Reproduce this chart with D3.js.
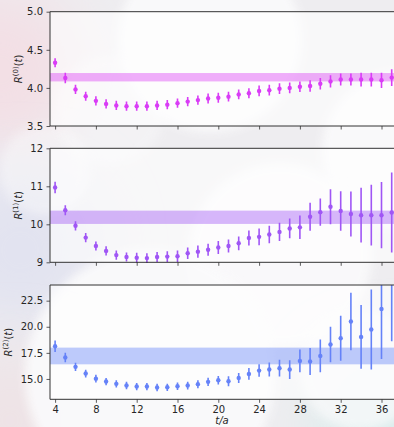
<!DOCTYPE html>
<html>
<head>
<meta charset="utf-8">
<script src="https://cdn.jsdelivr.net/npm/d3@7"></script>
<style>
  html, body { margin: 0; padding: 0; overflow: hidden; }
  svg { display: block; font-family: "DejaVu Sans", sans-serif; }
</style>
</head>
<body>
<svg id="chart" width="394" height="427"></svg>
<script>
// time slices
const tValues = [4, 5, 6, 7, 8, 9, 10, 11, 12, 13, 14, 15, 16, 17, 18, 19, 20,
  21, 22, 23, 24, 25, 26, 27, 28, 29, 30, 31, 32, 33, 34, 35, 36, 37];
const xTicks = [4, 8, 12, 16, 20, 24, 28, 32, 36];

// R^(0)(t)
const r0 = [4.33, 4.13, 3.98, 3.89, 3.83, 3.79, 3.77, 3.76, 3.76, 3.76, 3.77, 3.78, 3.80, 3.82, 3.84,
  3.86, 3.87, 3.885, 3.915, 3.93, 3.96, 3.97, 3.99, 4.00, 4.015, 4.025, 4.055, 4.085, 4.11, 4.11, 4.11, 4.11, 4.10, 4.135];
const e0 = [0.06, 0.07, 0.06, 0.06, 0.06, 0.06, 0.06, 0.06, 0.06, 0.06, 0.06, 0.06, 0.06, 0.06, 0.06,
  0.065, 0.065, 0.065, 0.065, 0.065, 0.07, 0.07, 0.07, 0.07, 0.07, 0.075, 0.075, 0.08, 0.08, 0.08, 0.09, 0.09, 0.1, 0.11];
const band0 = [4.085, 4.195];
const yTicks0 = [3.5, 4.0, 4.5, 5.0];

// R^(1)(t)
const r1 = [10.97, 10.37, 9.96, 9.65, 9.43, 9.30, 9.19, 9.14, 9.12, 9.11, 9.14, 9.15, 9.16, 9.24, 9.28,
  9.33, 9.39, 9.43, 9.50, 9.64, 9.67, 9.73, 9.80, 9.89, 9.92, 10.2, 10.32, 10.46, 10.35, 10.27, 10.24, 10.24, 10.24, 10.31];
const e1 = [0.15, 0.13, 0.12, 0.12, 0.12, 0.12, 0.12, 0.12, 0.13, 0.13, 0.13, 0.14, 0.15, 0.15, 0.16,
  0.16, 0.17, 0.17, 0.18, 0.2, 0.22, 0.23, 0.24, 0.26, 0.31, 0.37, 0.36, 0.46, 0.52, 0.59, 0.72, 0.80, 0.87, 1.05];
const band1 = [10.01, 10.36];
const yTicks1 = [9, 10, 11, 12];

// R^(2)(t)
const r2 = [18.13, 17.05, 16.16, 15.52, 15.03, 14.75, 14.53, 14.37, 14.27, 14.27, 14.18, 14.2, 14.3, 14.37, 14.5,
  14.72, 14.87, 14.78, 15.1, 15.48, 15.8, 15.9, 16.03, 15.9, 16.73, 16.67, 17.21, 18.3, 18.9, 20.5, 19.03, 19.73, 21.7, 24.8];
const e2 = [0.56, 0.45, 0.4, 0.37, 0.37, 0.35, 0.35, 0.35, 0.35, 0.35, 0.35, 0.35, 0.36, 0.37, 0.38,
  0.4, 0.41, 0.48, 0.48, 0.56, 0.6, 0.67, 0.8, 0.9, 1.1, 1.3, 1.56, 1.7, 2.15, 2.75, 3.05, 3.83, 4.8, 6.2];
const band2 = [16.4, 18.0];
const yTicks2 = [15.0, 17.5, 20.0, 22.5];

const svg = d3.select('#chart')
const W = 394, H = 427

// ---- blurry bokeh background ----
const defs = svg.append('defs')
defs.append('filter').attr('id', 'blur').attr('x', '-50%').attr('y', '-50%').attr('width', '200%').attr('height', '200%')
  .append('feGaussianBlur').attr('stdDeviation', 5)
defs.append('filter').attr('id', 'blurBig').attr('x', '-50%').attr('y', '-50%').attr('width', '200%').attr('height', '200%')
  .append('feGaussianBlur').attr('stdDeviation', 30)

const bg = svg.append('g')
bg.append('rect').attr('width', W).attr('height', H).attr('fill', '#eeedf0')
const tints = [
  { x: 0, y: 70, r: 80, c: '#f3dfe5' },
  { x: 20, y: 250, r: 80, c: '#e2e3f0' },
  { x: 10, y: 420, r: 70, c: '#eee3e6' },
  { x: 394, y: 427, r: 80, c: '#dcecec' }
]
bg.selectAll('circle.tint').data(tints).join('circle').attr('class', 'tint')
  .attr('cx', d => d.x).attr('cy', d => d.y).attr('r', d => d.r)
  .attr('fill', d => d.c).attr('filter', 'url(#blurBig)')
const bokeh = [
  { x: 210, y: 40, r: 92, o: 0.9 },
  { x: 400, y: 150, r: 78, o: 0.9 },
  { x: 280, y: 255, r: 92, o: 0.85 },
  { x: 150, y: 375, r: 125, o: 0.9 },
  { x: 360, y: 370, r: 60, o: 0.7 },
  { x: 45, y: 170, r: 45, o: 0.45 },
  { x: 110, y: 110, r: 55, o: 0.4 }
]
bg.selectAll('circle.bokeh').data(bokeh).join('circle').attr('class', 'bokeh')
  .attr('cx', d => d.x).attr('cy', d => d.y).attr('r', d => d.r)
  .attr('fill', '#fbfbfc').attr('opacity', d => d.o).attr('filter', 'url(#blur)')

// ---- panels ----
const x = d3.scaleLinear().domain([3.5, 37.5]).range([50, 396.8])

const panels = [
  { id: 'p0', vals: r0, errs: e0, band: band0, ticks: yTicks0, domain: [3.5, 5.0], top: 11.7, bottom: 126,
    color: '#d93cf6', bandColor: '#dc3ef5', fmt: d3.format('.1f'), sup: '(0)', labelX: 22 },
  { id: 'p1', vals: r1, errs: e1, band: band1, ticks: yTicks1, domain: [9, 12], top: 148.3, bottom: 262.3,
    color: '#a056f5', bandColor: '#a056f5', fmt: d3.format('d'), sup: '(1)', labelX: 22 },
  { id: 'p2', vals: r2, errs: e2, band: band2, ticks: yTicks2, domain: [13.05, 24.0], top: 285, bottom: 399.3,
    color: '#6582f8', bandColor: '#6582f8', fmt: d3.format('.1f'), sup: '(2)', labelX: 12 }
]

panels.forEach((p, i) => {
  const y = d3.scaleLinear().domain(p.domain).range([p.bottom, p.top])
  const g = svg.append('g')

  // semi transparent axes face
  g.append('rect').attr('x', x.range()[0]).attr('y', p.top)
    .attr('width', x.range()[1] - x.range()[0]).attr('height', p.bottom - p.top)
    .attr('fill', '#ffffff').attr('opacity', 0.6)

  defs.append('clipPath').attr('id', 'clip-' + p.id)
    .append('rect').attr('x', x.range()[0]).attr('y', p.top)
    .attr('width', x.range()[1] - x.range()[0]).attr('height', p.bottom - p.top + 5)

  const plot = g.append('g').attr('clip-path', `url(#clip-${p.id})`)

  // fit band
  plot.append('rect')
    .attr('x', x.range()[0]).attr('width', x.range()[1] - x.range()[0])
    .attr('y', y(p.band[1])).attr('height', y(p.band[0]) - y(p.band[1]))
    .attr('fill', p.bandColor).attr('opacity', 0.42)

  const pts = tValues.map((t, j) => ({ t: t, v: p.vals[j], e: p.errs[j] }))

  plot.append('g').selectAll('line').data(pts).join('line')
    .attr('x1', d => x(d.t)).attr('x2', d => x(d.t))
    .attr('y1', d => y(d.v - d.e)).attr('y2', d => y(d.v + d.e))
    .attr('stroke', p.color).attr('stroke-width', 1.6)

  plot.append('g').selectAll('circle').data(pts).join('circle')
    .attr('cx', d => x(d.t)).attr('cy', d => y(d.v)).attr('r', 2.2)
    .attr('fill', p.color)

  // axes
  const yAxis = g.append('g').attr('transform', `translate(${x.range()[0]},0)`)
    .call(d3.axisLeft(y).tickValues(p.ticks).tickFormat(p.fmt).tickSize(3.5).tickPadding(3.5))
  yAxis.select('.domain').remove()

  const xAxis = g.append('g').attr('transform', `translate(0,${p.bottom})`)
    .call(d3.axisBottom(x).tickValues(xTicks).tickSize(3.5).tickPadding(3.5)
      .tickFormat(i == 2 ? d3.format('d') : ''))
  xAxis.select('.domain').remove()

  ;[yAxis, xAxis].forEach(a => {
    a.selectAll('text').attr('font-size', 10).attr('fill', '#262626').attr('font-family', '"DejaVu Sans", sans-serif')
    a.selectAll('line').attr('stroke', '#333').attr('stroke-width', 0.8)
  })

  // spines
  g.append('path')
    .attr('d', `M${x.range()[1]},${p.top}H${x.range()[0]}V${p.bottom}H${x.range()[1]}`)
    .attr('fill', 'none').attr('stroke', '#333').attr('stroke-width', 1)

  // y label
  const lbl = g.append('text')
    .attr('transform', `translate(${p.labelX},${(p.top + p.bottom) / 2}) rotate(-90)`)
    .attr('text-anchor', 'middle').attr('font-size', 10).attr('fill', '#262626')
  lbl.append('tspan').attr('font-style', 'italic').text('R')
  lbl.append('tspan').attr('font-size', 7).attr('dy', -4).text(p.sup)
  lbl.append('tspan').attr('dy', 4).text('(')
  lbl.append('tspan').attr('font-style', 'italic').text('t')
  lbl.append('tspan').text(')')
})

svg.append('text').attr('x', 222).attr('y', 424).attr('text-anchor', 'middle')
  .attr('font-size', 10).attr('font-style', 'italic').attr('fill', '#262626').text('t/a')
</script>
</body>
</html>
